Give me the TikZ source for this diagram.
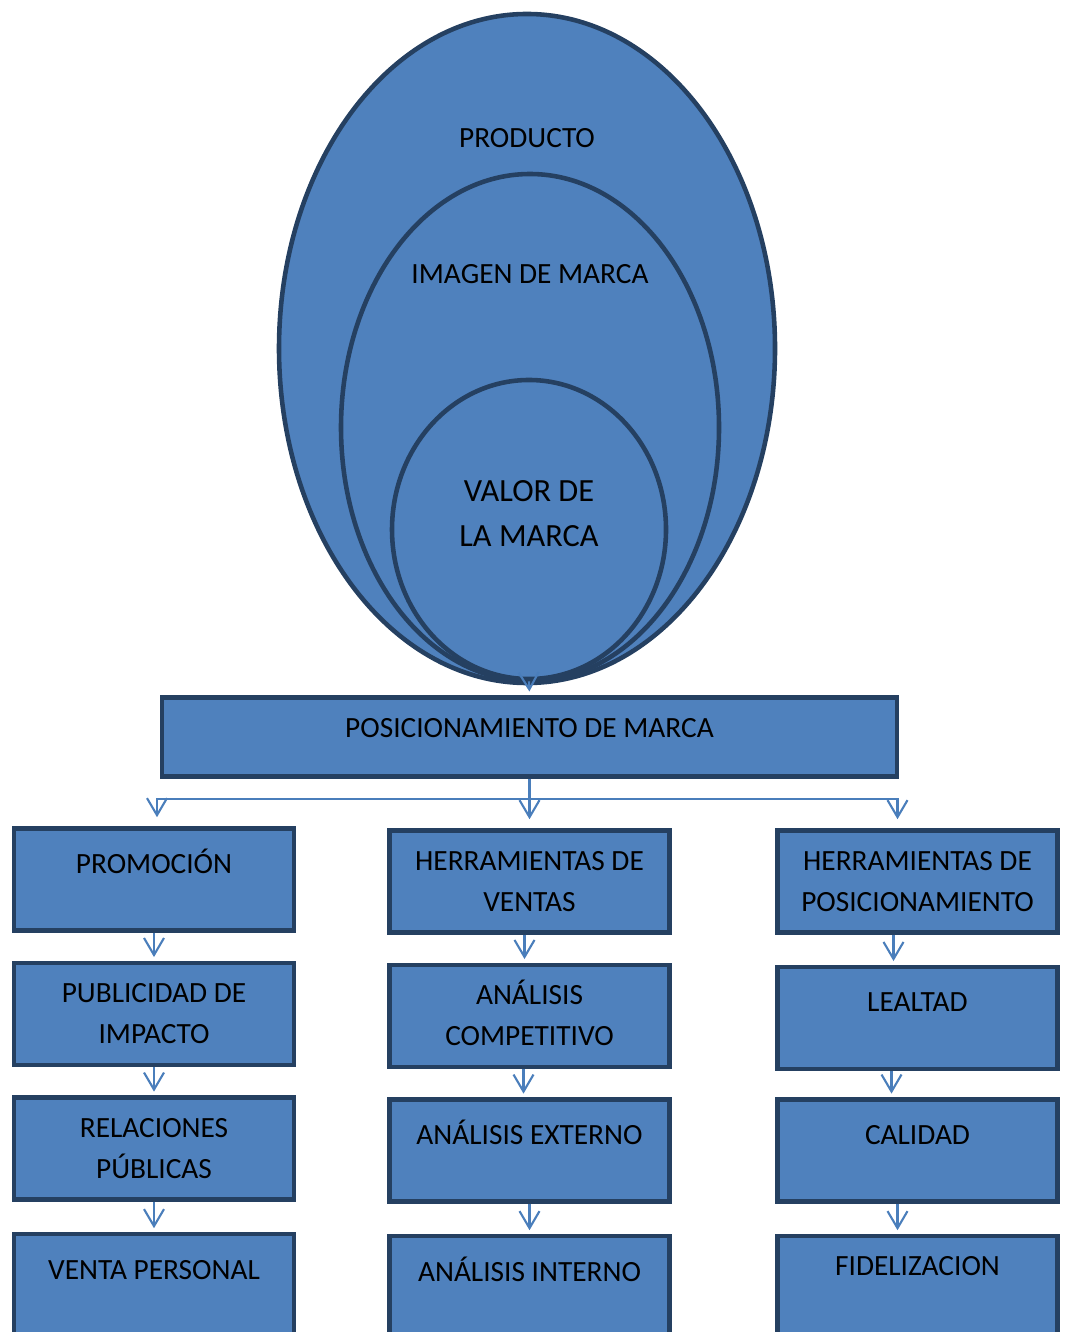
\documentclass[tikz,border=0pt]{standalone}
\usepackage{fontspec}
\setmainfont{Carlito}
\usetikzlibrary{shapes.geometric, arrows.meta, calc, positioning}
\definecolor{boxfill}{RGB}{79,129,189}
\definecolor{boxline}{RGB}{37,64,97}
\definecolor{arrowblue}{RGB}{74,126,187}

\begin{document}
\begin{tikzpicture}

% TikZ styles
\tikzset{
  ring/.style={ellipse, draw=boxline, fill=boxfill, line width=1.3pt, inner sep=0pt},
  ringtext/.style={font=\fontsize{8.35}{11.7}\selectfont, align=center},
  box/.style={rectangle, draw=boxline, fill=boxfill, line width=1.3pt, inner sep=0pt,
    minimum width=2.8cm, minimum height=1.02cm, text width=2.8cm, align=flush center,
    font=\fontsize{8.35}{11.7}\selectfont, text height=0.45cm, text depth=0.57cm},
  twoline/.style={text height=0.40cm, text depth=0.62cm},
  arrow/.style={-{Straight Barb[length=0.17cm, width=0.2cm]}, draw=arrowblue, line width=0.6pt, shorten >=1pt},
  node distance=0.28cm
}

\useasboundingbox (0,0) rectangle (10.67,-13.32);

%==========================
% Ovalos anidados
%==========================
\node[ring, minimum width=4.96cm, minimum height=6.69cm] (producto) at (5.27,-3.485) {};
\node[ring, minimum width=3.78cm, minimum height=5.07cm] (imagen) at (5.30,-4.275) {};
\node[ring, minimum width=2.74cm, minimum height=2.99cm] (valor) at (5.29,-5.295) {};

\node[ringtext] (productolbl) at (5.27,-1.38) {PRODUCTO};
\node[ringtext] (imagenlbl) at (5.30,-2.74) {IMAGEN DE MARCA};
\node[ringtext, font=\fontsize{9.2}{12.8}\selectfont] (valorlbl) at (5.29,-5.135) {VALOR DE\\LA MARCA};

%==========================
% Posicionamiento
%==========================
\node[box, anchor=north, minimum width=7.35cm, text width=7.35cm, minimum height=0.79cm,
  text height=0.40cm, text depth=0.39cm] (posic) at (5.295,-6.95) {POSICIONAMIENTO DE MARCA};

\draw[arrow] (valor.south) -- (posic.north);

% tres columnas
\node[box, anchor=north] (promo) at (1.54,-8.26) {PROMOCIÓN};
\node[box, twoline, anchor=north] (ventas) at (5.295,-8.28) {HERRAMIENTAS DE\\VENTAS};
\node[box, twoline, anchor=north] (posh) at (9.175,-8.28) {HERRAMIENTAS DE\\POSICIONAMIENTO};

\node[box, twoline, below=of promo] (publi) {PUBLICIDAD DE\\IMPACTO};
\node[box, twoline, below=of publi] (relac) {RELACIONES\\PÚBLICAS};
\node[box, below=0.30cm of relac] (venta) {VENTA PERSONAL};

\node[box, twoline, below=of ventas] (compet) {ANÁLISIS\\COMPETITIVO};
\node[box, below=of compet] (externo) {ANÁLISIS EXTERNO};
\node[box, below=0.30cm of externo] (interno) {ANÁLISIS INTERNO};

\node[box, below=0.30cm of posh] (lealtad) {LEALTAD};
\node[box, below=0.26cm of lealtad] (calidad) {CALIDAD};
\node[box, below=0.30cm of calidad, text height=0.39cm, text depth=0.63cm] (fidel) {FIDELIZACION};

%Pfeile oben
\coordinate (split) at ($(posic.south)+(0,-0.20)$);
\draw[arrow, shorten >=2.5pt] (posic.south) -- (posic.south |- ventas.north);
\draw[arrow, shorten >=2.5pt] (split) -| ([xshift=0.03cm]promo.north);
\draw[arrow, shorten >=2.5pt] (split) -| ([xshift=-0.2cm]posh.north);

%Pfeile unten
\draw[arrow] (promo.south) -- (promo.south |- publi.north);
\draw[arrow] (publi.south) -- (publi.south |- relac.north);
\draw[arrow] (relac.south) -- (relac.south |- venta.north);

\draw[arrow] ([xshift=-0.05cm]ventas.south) -- ([xshift=-0.05cm]ventas.south |- compet.north);
\draw[arrow] ([xshift=-0.06cm]compet.south) -- ([xshift=-0.06cm]compet.south |- externo.north);
\draw[arrow] (externo.south) -- (externo.south |- interno.north);

\draw[arrow] ([xshift=-0.24cm]posh.south) -- ([xshift=-0.24cm]posh.south |- lealtad.north);
\draw[arrow] ([xshift=-0.26cm]lealtad.south) -- ([xshift=-0.26cm]lealtad.south |- calidad.north);
\draw[arrow] ([xshift=-0.2cm]calidad.south) -- ([xshift=-0.2cm]calidad.south |- fidel.north);

\end{tikzpicture}
\end{document}
